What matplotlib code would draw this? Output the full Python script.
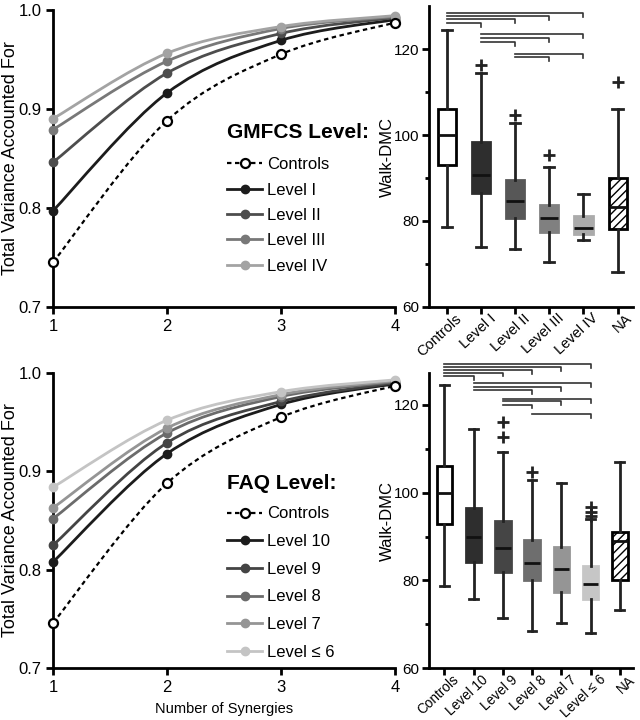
import matplotlib
matplotlib.use("Agg")
import matplotlib.pyplot as plt
from matplotlib.path import Path
from matplotlib.patches import PathPatch
from matplotlib.lines import Line2D
from matplotlib.transforms import ScaledTranslation
import numpy as np

plt.rcParams['font.family'] = ['Liberation Sans', 'DejaVu Sans']
plt.rcParams['hatch.linewidth'] = 1.0

# ---- line plots: total variance accounted for ----
n_syn = [1, 2, 3, 4]

gm_labels = ['Controls', 'Level I', 'Level II', 'Level III', 'Level IV']
gm_controls = [0.745, 0.888, 0.955, 0.987]
gm_level1 = [0.797, 0.916, 0.969, 0.990]
gm_level2 = [0.846, 0.936, 0.976, 0.992]
gm_level3 = [0.879, 0.948, 0.981, 0.993]
gm_level4 = [0.890, 0.956, 0.983, 0.994]

faq_labels = ['Controls', 'Level 10', 'Level 9', 'Level 8', 'Level 7', 'Level ≤ 6']
faq_controls = [0.746, 0.888, 0.955, 0.987]
faq_level10 = [0.808, 0.918, 0.968, 0.989]
faq_level9 = [0.825, 0.929, 0.971, 0.990]
faq_level8 = [0.852, 0.939, 0.976, 0.991]
faq_level7 = [0.863, 0.944, 0.978, 0.992]
faq_level6 = [0.884, 0.952, 0.981, 0.993]

# ---- box plots: Walk-DMC ----
gm_groups = ['Controls', 'Level I', 'Level II', 'Level III', 'Level IV', 'NA']
gm_whislo = [78.7, 74.0, 73.4, 70.5, 75.6, 68.0]
gm_q1 = [93.1, 86.6, 80.7, 77.4, 77.0, 78.1]
gm_med = [100.0, 90.8, 84.7, 80.7, 78.4, 83.3]
gm_q3 = [106.2, 98.3, 89.6, 83.7, 81.2, 90.0]
gm_whishi = [124.4, 114.6, 102.9, 92.5, 86.3, 106.0]
gm_fliers = [[], [116.3], [104.6], [95.3], [], [112.3]]
gm_pairs = [(0, 4), (0, 3), (0, 2), (0, 1), (1, 4), (1, 3), (1, 2), (2, 4), (2, 3)]
gm_pair_y = [128.4, 127.7, 127.0, 126.2, 123.5, 122.6, 121.8, 119.0, 118.2]

faq_groups = ['Controls', 'Level 10', 'Level 9', 'Level 8', 'Level 7', 'Level ≤ 6', 'NA']
faq_whislo = [78.7, 75.7, 71.4, 68.5, 70.2, 68.1, 73.2]
faq_q1 = [92.9, 84.3, 82.0, 80.0, 77.3, 75.7, 80.1]
faq_med = [99.9, 89.8, 87.3, 84.0, 82.7, 79.1, 89.0]
faq_q3 = [106.0, 96.5, 93.6, 89.2, 87.6, 83.3, 91.1]
faq_whishi = [124.5, 114.6, 109.3, 102.8, 102.3, 93.9, 106.9]
faq_fliers = [[], [], [112.6, 116.2], [104.8], [], [94.8, 95.7, 96.7], []]
faq_pairs = [(0, 5), (0, 4), (0, 3), (0, 2), (0, 1), (1, 5), (1, 4), (1, 3),
             (2, 5), (2, 4), (2, 3), (3, 5)]
faq_pair_y = [129.4, 128.6, 128.0, 127.4, 126.7, 125.0, 124.2, 123.4,
              121.4, 120.8, 120.1, 118.0]

gm_line_colors = ['#1c1c1c', '#4d4d4d', '#787878', '#a3a3a3']
faq_line_colors = ['#1c1c1c', '#444444', '#6b6b6b', '#959595', '#c4c4c4']
gm_box_colors = ['white', '#2e2e2e', '#575757', '#808080', '#ababab', 'white']
faq_box_colors = ['white', '#2e2e2e', '#454545', '#6e6e6e', '#959595', '#c6c6c6', 'white']


def smooth_path(xs, ys):
    # catmull-rom through the points, as cubic bezier segments
    pts = np.column_stack([xs, ys]).astype(float)
    ext = np.vstack([pts[0], pts, pts[-1]])
    verts = [pts[0]]
    codes = [Path.MOVETO]
    for i in range(len(pts) - 1):
        p0, p1, p2, p3 = ext[i], ext[i + 1], ext[i + 2], ext[i + 3]
        verts += [p1 + (p2 - p0) / 6, p2 - (p3 - p1) / 6, p2]
        codes += [Path.CURVE4] * 3
    return Path(verts, codes)


def line_panel(ax, controls, series, colors, labels, title, title_y, leg_y, spacing):
    handles = []
    ax.add_patch(PathPatch(smooth_path(n_syn, controls), fill=False, ec='black',
                           lw=1.6, ls=(0, (2, 1.6)), zorder=2, clip_on=False))
    ax.plot(n_syn, controls, ls='none', marker='o', ms=6.5, mfc='white', mec='black',
            mew=1.6, zorder=5, clip_on=False)
    handles.append(Line2D([], [], color='black', lw=1.6, ls=(0, (2, 1.6)), marker='o',
                          ms=6.5, mfc='white', mec='black', mew=1.6))
    for ys, c in zip(series, colors):
        ax.add_patch(PathPatch(smooth_path(n_syn, ys), fill=False, ec=c, lw=2,
                               zorder=3, clip_on=False))
        ax.plot(n_syn, ys, ls='none', marker='o', ms=6, color=c, zorder=4, clip_on=False)
        handles.append(Line2D([], [], color=c, lw=2, marker='o', ms=6))
    ax.set_xlim(1, 4)
    ax.set_ylim(0.7, 1.0)
    ax.set_xticks([1, 2, 3, 4])
    ax.set_yticks([0.7, 0.8, 0.9, 1.0])
    ax.set_yticklabels(['0.7', '0.8', '0.9', '1.0'])
    ax.set_ylabel('Total Variance Accounted For', fontsize=13)
    ax.yaxis.set_label_coords(-0.10, 0.5)
    for s in ['top', 'right']:
        ax.spines[s].set_visible(False)
    for s in ['left', 'bottom']:
        ax.spines[s].set_linewidth(2)
    ax.tick_params(width=2, length=5, labelsize=12)
    ax.text(0.509, title_y, title, transform=ax.transAxes, fontsize=15,
            fontweight='bold', va='center', ha='left')
    ax.legend(handles, labels, loc='upper left', bbox_to_anchor=(0.509, leg_y),
              frameon=False, fontsize=12, handlelength=2.1, handletextpad=0.3,
              labelspacing=spacing, borderaxespad=0, borderpad=0)


def box_panel(ax, groups, whislo, q1, med, q3, whishi, fliers, colors, pairs, pair_y,
              ylim, label_fs):
    stats = []
    for i in range(len(groups)):
        stats.append(dict(med=med[i], q1=q1[i], q3=q3[i], whislo=whislo[i],
                          whishi=whishi[i], fliers=fliers[i], label=groups[i]))
    pos = list(range(len(groups)))
    bp = ax.bxp(stats, positions=pos, widths=0.53, patch_artist=True,
                boxprops=dict(lw=2), whiskerprops=dict(lw=2, color='#222222'),
                capprops=dict(lw=2, color='#222222'), medianprops=dict(lw=2, color='#111111'),
                flierprops=dict(marker='+', ms=9, mew=2, mec='#222222'), capwidths=0.3)
    for i, b in enumerate(bp['boxes']):
        b.set_facecolor(colors[i])
        if i == 0 or i == len(groups) - 1:
            b.set_edgecolor('black')
        else:
            b.set_edgecolor(colors[i])
    bp['boxes'][-1].set_hatch('////')
    for (a, b), y in zip(pairs, pair_y):
        ax.plot([a, b, b], [y, y, y - 0.9], color='#333333', lw=1.2, clip_on=False)
    ax.set_xlim(-0.53, len(groups) - 0.55)
    ax.set_ylim(*ylim)
    ax.set_yticks([60, 80, 100, 120])
    ax.set_yticks([70, 90, 110], minor=True)
    ax.set_xticks(pos)
    ax.set_xticklabels([])
    # rotated category names, shifted right of their ticks like the original
    shift = ScaledTranslation(0.08, -0.045, fig.dpi_scale_trans)
    for i, g in enumerate(groups):
        ax.text(i, 0, g, transform=ax.get_xaxis_transform() + shift, rotation=43,
                ha='right', va='top', rotation_mode='anchor', fontsize=label_fs)
    ax.set_ylabel('Walk-DMC', fontsize=12)
    ax.yaxis.set_label_coords(-0.165, 0.5)
    for s in ['top', 'right']:
        ax.spines[s].set_visible(False)
    for s in ['left', 'bottom']:
        ax.spines[s].set_linewidth(2)
    ax.tick_params(width=2, length=5)
    ax.tick_params(axis='y', labelsize=11, pad=2)
    ax.tick_params(which='minor', width=2, length=3)


fig = plt.figure(figsize=(6.4, 7.2), dpi=100)

ax1 = fig.add_axes([0.083, 0.574, 0.534, 0.4125])
line_panel(ax1, gm_controls, [gm_level1, gm_level2, gm_level3, gm_level4],
           gm_line_colors, gm_labels, 'GMFCS Level:', 0.586, 0.503, 0.62)

ax2 = fig.add_axes([0.670, 0.574, 0.319, 0.417])
box_panel(ax2, gm_groups, gm_whislo, gm_q1, gm_med, gm_q3, gm_whishi, gm_fliers,
          gm_box_colors, gm_pairs, gm_pair_y, (60, 130), 10.5)

ax3 = fig.add_axes([0.083, 0.072, 0.534, 0.41])
line_panel(ax3, faq_controls, [faq_level10, faq_level9, faq_level8, faq_level7, faq_level6],
           faq_line_colors, faq_labels, 'FAQ Level:', 0.627, 0.548, 0.76)
ax3.set_xlabel('Number of Synergies', fontsize=10.5, labelpad=5)

ax4 = fig.add_axes([0.670, 0.072, 0.319, 0.41])
box_panel(ax4, faq_groups, faq_whislo, faq_q1, faq_med, faq_q3, faq_whishi, faq_fliers,
          faq_box_colors, faq_pairs, faq_pair_y, (65.5, 127.3), 9.8)

fig.savefig('out.png', dpi=100)
